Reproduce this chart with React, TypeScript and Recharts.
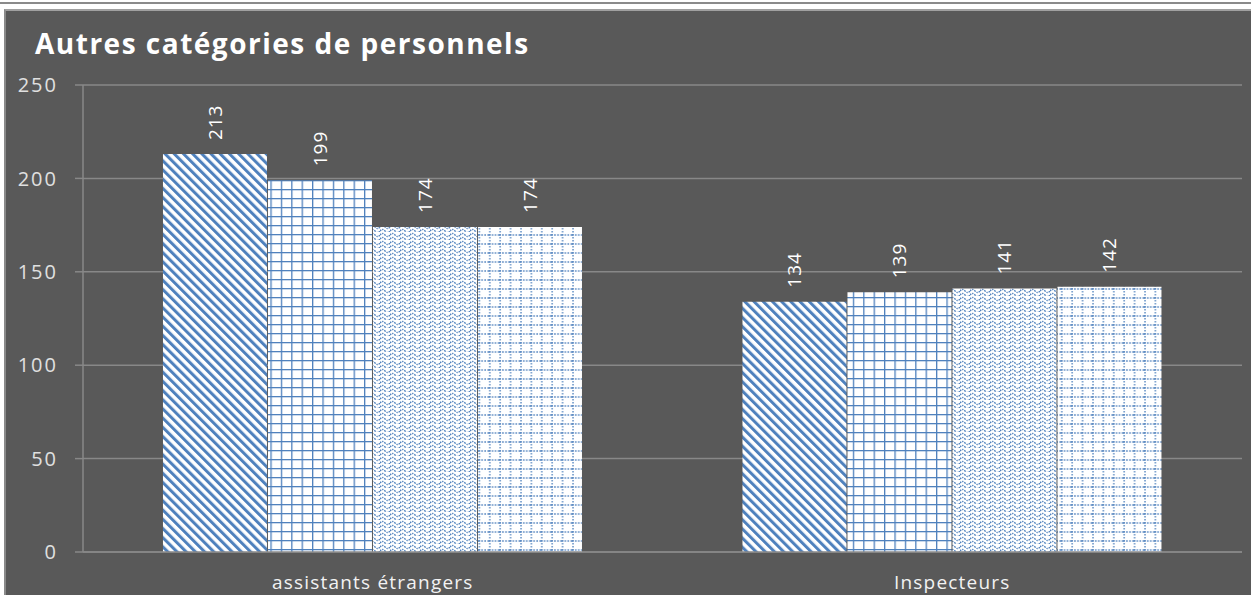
import { Bar, BarChart, CartesianGrid, LabelList, XAxis, YAxis } from "recharts";

const categories = ["assistants étrangers", "Inspecteurs"];
const serie1 = [213, 134];
const serie2 = [199, 139];
const serie3 = [174, 141];
const serie4 = [174, 142];
const yTicks = [0, 50, 100, 150, 200, 250];

const data = categories.map((name, i) => ({
  name,
  s1: serie1[i],
  s2: serie2[i],
  s3: serie3[i],
  s4: serie4[i],
}));

const BLUE = "#4F81BD";
const BG = "#595959";
const AXIS = "#888888";
const FONT = "'Open Sans', 'Noto Sans', sans-serif";

const renderLabel = (props: any) => {
  const { x, y, width, value } = props;
  const cx = Number(x) + Number(width) / 2;
  const cy = Number(y) - 14;
  return (
    <text
      x={cx}
      y={cy}
      transform={`rotate(-90 ${cx} ${cy})`}
      fill="#ffffff"
      fontSize={19}
      letterSpacing={1}
      fontFamily={FONT}
      textAnchor="start"
      dominantBaseline="central"
    >
      {value}
    </text>
  );
};

export default function App() {
  return (
    <div style={{ position: "absolute", left: 0, top: 0, width: 1251, height: 595, background: "#fff" }}>
      <div style={{ position: "absolute", left: 0, top: 2, width: 1251, height: 2, background: "#8a8a8a" }} />
      <div
        style={{
          position: "absolute",
          left: 4,
          top: 9,
          width: 1247,
          height: 586,
          background: BG,
          borderLeft: "2px solid #8a8a8a",
          borderTop: "2px solid #a0a0a0",
          boxSizing: "border-box",
        }}
      />
      <div
        style={{
          position: "absolute",
          left: 35,
          top: 24,
          color: "#fff",
          fontFamily: FONT,
          fontWeight: 700,
          fontSize: 28,
          letterSpacing: 1.5,
          whiteSpace: "nowrap",
        }}
      >
        Autres catégories de personnels
      </div>
      <div style={{ position: "absolute", left: 0, top: 0 }}>
        <BarChart
          width={1251}
          height={595}
          data={data}
          margin={{ top: 85, right: 9, left: 0, bottom: 0 }}
          barCategoryGap="13.8%"
          barGap={1}
        >
          <defs>
            <pattern id="p1" width="6.5" height="6.5" patternUnits="userSpaceOnUse" patternTransform="rotate(-45)">
              <rect width="6.5" height="6.5" fill="#fff" />
              <rect width="3" height="6.5" fill={BLUE} />
            </pattern>
            <pattern id="p2" width="10.4" height="9" patternUnits="userSpaceOnUse">
              <rect width="10.4" height="9" fill="#fff" />
              <rect width="1.3" height="9" fill={BLUE} />
              <rect width="10.4" height="1.3" fill={BLUE} />
            </pattern>
            <pattern id="p3" width="10" height="8" patternUnits="userSpaceOnUse">
              <rect width="10" height="8" fill="#fff" />
              <path d="M0 3 Q2.5 0 5 3 T10 3" stroke={BLUE} strokeWidth="1.3" fill="none" strokeDasharray="1.5 1" />
              <path d="M0 7 Q2.5 4 5 7 T10 7" stroke={BLUE} strokeWidth="1.3" fill="none" strokeDasharray="1.5 1" />
            </pattern>
            <pattern id="p4" width="10.4" height="9" patternUnits="userSpaceOnUse">
              <rect width="10.4" height="9" fill="#fff" />
              <line x1="1" y1="0" x2="1" y2="9" stroke={BLUE} strokeWidth="1.3" strokeDasharray="1.5 1.5" />
              <line x1="0" y1="1" x2="10.4" y2="1" stroke={BLUE} strokeWidth="1.3" strokeDasharray="1.5 1.5" />
            </pattern>
          </defs>
          <CartesianGrid vertical={false} stroke={AXIS} strokeWidth={1.5} />
          <XAxis
            dataKey="name"
            height={43}
            axisLine={{ stroke: AXIS, strokeWidth: 1.5 }}
            tickLine={false}
            tickMargin={18}
            tick={{ fill: "#f2f2f2", fontSize: 19, fontFamily: FONT, letterSpacing: 1.2 }}
          />
          <YAxis
            width={83}
            domain={[0, 250]}
            ticks={yTicks}
            axisLine={{ stroke: AXIS, strokeWidth: 1.5 }}
            tickLine={{ stroke: AXIS, strokeWidth: 1.5 }}
            tickSize={8}
            tickMargin={17}
            tick={{ fill: "#e0e0e0", fontSize: 20, fontFamily: FONT, letterSpacing: 2 }}
          />
          <Bar dataKey="s1" fill="url(#p1)" isAnimationActive={false}>
            <LabelList dataKey="s1" content={renderLabel} />
          </Bar>
          <Bar dataKey="s2" fill="url(#p2)" isAnimationActive={false}>
            <LabelList dataKey="s2" content={renderLabel} />
          </Bar>
          <Bar dataKey="s3" fill="url(#p3)" isAnimationActive={false}>
            <LabelList dataKey="s3" content={renderLabel} />
          </Bar>
          <Bar dataKey="s4" fill="url(#p4)" isAnimationActive={false}>
            <LabelList dataKey="s4" content={renderLabel} />
          </Bar>
        </BarChart>
      </div>
    </div>
  );
}
